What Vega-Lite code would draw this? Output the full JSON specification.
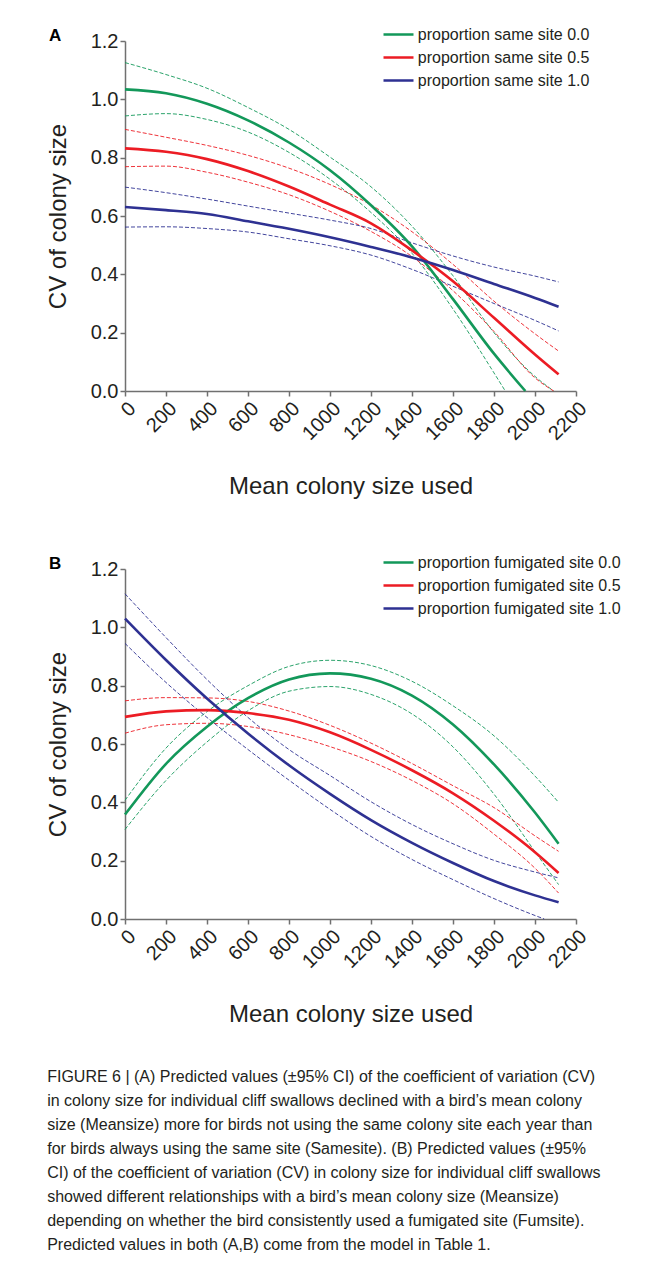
{
  "$schema": "https://vega.github.io/schema/vega-lite/v6.json",
  "background": "white",
  "padding": {"left": 46, "top": 26, "right": 5, "bottom": 5},
  "bounds": "flush",
  "spacing": 178,
  "config": {
    "font": "Liberation Sans",
    "view": {"stroke": null},
    "axis": {
      "domainColor": "#707070", "domainWidth": 1.5, "tickColor": "#707070", "tickWidth": 1.5, "tickSize": 5,
      "labelFontSize": 20, "labelColor": "#231f20", "titleFontSize": 24, "titleFontWeight": "normal",
      "titleColor": "#231f20", "grid": false, "labelPadding": 2
    },
    "legend": {
      "orient": "none", "legendX": 265.5, "legendY": -14.5, "title": null, "symbolType": "M-3,0H3", "symbolSize": 100,
      "symbolStrokeWidth": 2.6, "symbolDash": [1, 0], "labelFontSize": 16, "labelColor": "#231f20", "rowPadding": 7,
      "labelOffset": 11.3, "labelLimit": 400
    },
    "title": {"color": "#000000"}
  },
  "title": {
    "text": [
      "FIGURE 6 | (A) Predicted values (±95% CI) of the coefficient of variation (CV)",
      "in colony size for individual cliff swallows declined with a bird’s mean colony",
      "size (Meansize) more for birds not using the same colony site each year than",
      "for birds always using the same site (Samesite). (B) Predicted values (±95%",
      "CI) of the coefficient of variation (CV) in colony size for individual cliff swallows",
      "showed different relationships with a bird’s mean colony size (Meansize)",
      "depending on whether the bird consistently used a fumigated site (Fumsite).",
      "Predicted values in both (A,B) come from the model in Table 1."
    ],
    "orient": "bottom", "anchor": "start", "frame": "bounds", "font": "Liberation Sans",
    "fontSize": 16, "fontWeight": "normal", "lineHeight": 24, "offset": 42, "dx": 1, "color": "#231f20"
  },
  "datasets": {
    "A": [
      {"series": "proportion same site 0.0", "curve": "upper", "kind": "ci", "x": 0, "y": 1.126},
      {"series": "proportion same site 0.0", "curve": "upper", "kind": "ci", "x": 200, "y": 1.085},
      {"series": "proportion same site 0.0", "curve": "upper", "kind": "ci", "x": 400, "y": 1.038},
      {"series": "proportion same site 0.0", "curve": "upper", "kind": "ci", "x": 600, "y": 0.972},
      {"series": "proportion same site 0.0", "curve": "upper", "kind": "ci", "x": 800, "y": 0.897},
      {"series": "proportion same site 0.0", "curve": "upper", "kind": "ci", "x": 1000, "y": 0.802},
      {"series": "proportion same site 0.0", "curve": "upper", "kind": "ci", "x": 1200, "y": 0.7},
      {"series": "proportion same site 0.0", "curve": "upper", "kind": "ci", "x": 1400, "y": 0.565},
      {"series": "proportion same site 0.0", "curve": "upper", "kind": "ci", "x": 1600, "y": 0.395},
      {"series": "proportion same site 0.0", "curve": "upper", "kind": "ci", "x": 1800, "y": 0.2},
      {"series": "proportion same site 0.0", "curve": "upper", "kind": "ci", "x": 2000, "y": 0.05},
      {"series": "proportion same site 0.0", "curve": "upper", "kind": "ci", "x": 2091, "y": 0},
      {"series": "proportion same site 0.0", "curve": "fit", "kind": "fit", "x": 0, "y": 1.034},
      {"series": "proportion same site 0.0", "curve": "fit", "kind": "fit", "x": 200, "y": 1.021},
      {"series": "proportion same site 0.0", "curve": "fit", "kind": "fit", "x": 400, "y": 0.985},
      {"series": "proportion same site 0.0", "curve": "fit", "kind": "fit", "x": 600, "y": 0.928},
      {"series": "proportion same site 0.0", "curve": "fit", "kind": "fit", "x": 800, "y": 0.852},
      {"series": "proportion same site 0.0", "curve": "fit", "kind": "fit", "x": 1000, "y": 0.757},
      {"series": "proportion same site 0.0", "curve": "fit", "kind": "fit", "x": 1200, "y": 0.637},
      {"series": "proportion same site 0.0", "curve": "fit", "kind": "fit", "x": 1400, "y": 0.496},
      {"series": "proportion same site 0.0", "curve": "fit", "kind": "fit", "x": 1600, "y": 0.315},
      {"series": "proportion same site 0.0", "curve": "fit", "kind": "fit", "x": 1800, "y": 0.128},
      {"series": "proportion same site 0.0", "curve": "fit", "kind": "fit", "x": 1953, "y": 0},
      {"series": "proportion same site 0.0", "curve": "lower", "kind": "ci", "x": 0, "y": 0.943},
      {"series": "proportion same site 0.0", "curve": "lower", "kind": "ci", "x": 200, "y": 0.951},
      {"series": "proportion same site 0.0", "curve": "lower", "kind": "ci", "x": 400, "y": 0.931},
      {"series": "proportion same site 0.0", "curve": "lower", "kind": "ci", "x": 600, "y": 0.888},
      {"series": "proportion same site 0.0", "curve": "lower", "kind": "ci", "x": 800, "y": 0.818},
      {"series": "proportion same site 0.0", "curve": "lower", "kind": "ci", "x": 1000, "y": 0.726},
      {"series": "proportion same site 0.0", "curve": "lower", "kind": "ci", "x": 1200, "y": 0.612},
      {"series": "proportion same site 0.0", "curve": "lower", "kind": "ci", "x": 1400, "y": 0.472},
      {"series": "proportion same site 0.0", "curve": "lower", "kind": "ci", "x": 1600, "y": 0.281},
      {"series": "proportion same site 0.0", "curve": "lower", "kind": "ci", "x": 1800, "y": 0.062},
      {"series": "proportion same site 0.0", "curve": "lower", "kind": "ci", "x": 1855, "y": 0},
      {"series": "proportion same site 0.5", "curve": "upper", "kind": "ci", "x": 0, "y": 0.897},
      {"series": "proportion same site 0.5", "curve": "upper", "kind": "ci", "x": 200, "y": 0.87},
      {"series": "proportion same site 0.5", "curve": "upper", "kind": "ci", "x": 400, "y": 0.842},
      {"series": "proportion same site 0.5", "curve": "upper", "kind": "ci", "x": 600, "y": 0.808},
      {"series": "proportion same site 0.5", "curve": "upper", "kind": "ci", "x": 800, "y": 0.764},
      {"series": "proportion same site 0.5", "curve": "upper", "kind": "ci", "x": 1000, "y": 0.708},
      {"series": "proportion same site 0.5", "curve": "upper", "kind": "ci", "x": 1200, "y": 0.638},
      {"series": "proportion same site 0.5", "curve": "upper", "kind": "ci", "x": 1400, "y": 0.546},
      {"series": "proportion same site 0.5", "curve": "upper", "kind": "ci", "x": 1600, "y": 0.434},
      {"series": "proportion same site 0.5", "curve": "upper", "kind": "ci", "x": 1800, "y": 0.308},
      {"series": "proportion same site 0.5", "curve": "upper", "kind": "ci", "x": 2000, "y": 0.196},
      {"series": "proportion same site 0.5", "curve": "upper", "kind": "ci", "x": 2115, "y": 0.137},
      {"series": "proportion same site 0.5", "curve": "fit", "kind": "fit", "x": 0, "y": 0.832},
      {"series": "proportion same site 0.5", "curve": "fit", "kind": "fit", "x": 200, "y": 0.82},
      {"series": "proportion same site 0.5", "curve": "fit", "kind": "fit", "x": 400, "y": 0.795},
      {"series": "proportion same site 0.5", "curve": "fit", "kind": "fit", "x": 600, "y": 0.754},
      {"series": "proportion same site 0.5", "curve": "fit", "kind": "fit", "x": 800, "y": 0.701},
      {"series": "proportion same site 0.5", "curve": "fit", "kind": "fit", "x": 1000, "y": 0.639},
      {"series": "proportion same site 0.5", "curve": "fit", "kind": "fit", "x": 1200, "y": 0.575},
      {"series": "proportion same site 0.5", "curve": "fit", "kind": "fit", "x": 1400, "y": 0.482},
      {"series": "proportion same site 0.5", "curve": "fit", "kind": "fit", "x": 1600, "y": 0.376},
      {"series": "proportion same site 0.5", "curve": "fit", "kind": "fit", "x": 1800, "y": 0.251},
      {"series": "proportion same site 0.5", "curve": "fit", "kind": "fit", "x": 2000, "y": 0.125},
      {"series": "proportion same site 0.5", "curve": "fit", "kind": "fit", "x": 2115, "y": 0.057},
      {"series": "proportion same site 0.5", "curve": "lower", "kind": "ci", "x": 0, "y": 0.769},
      {"series": "proportion same site 0.5", "curve": "lower", "kind": "ci", "x": 200, "y": 0.771},
      {"series": "proportion same site 0.5", "curve": "lower", "kind": "ci", "x": 400, "y": 0.75},
      {"series": "proportion same site 0.5", "curve": "lower", "kind": "ci", "x": 600, "y": 0.716},
      {"series": "proportion same site 0.5", "curve": "lower", "kind": "ci", "x": 800, "y": 0.673},
      {"series": "proportion same site 0.5", "curve": "lower", "kind": "ci", "x": 1000, "y": 0.616},
      {"series": "proportion same site 0.5", "curve": "lower", "kind": "ci", "x": 1200, "y": 0.547},
      {"series": "proportion same site 0.5", "curve": "lower", "kind": "ci", "x": 1400, "y": 0.461},
      {"series": "proportion same site 0.5", "curve": "lower", "kind": "ci", "x": 1600, "y": 0.344},
      {"series": "proportion same site 0.5", "curve": "lower", "kind": "ci", "x": 1800, "y": 0.204},
      {"series": "proportion same site 0.5", "curve": "lower", "kind": "ci", "x": 2000, "y": 0.045},
      {"series": "proportion same site 0.5", "curve": "lower", "kind": "ci", "x": 2091, "y": 0},
      {"series": "proportion same site 1.0", "curve": "upper", "kind": "ci", "x": 0, "y": 0.699},
      {"series": "proportion same site 1.0", "curve": "upper", "kind": "ci", "x": 200, "y": 0.68},
      {"series": "proportion same site 1.0", "curve": "upper", "kind": "ci", "x": 400, "y": 0.658},
      {"series": "proportion same site 1.0", "curve": "upper", "kind": "ci", "x": 600, "y": 0.634},
      {"series": "proportion same site 1.0", "curve": "upper", "kind": "ci", "x": 800, "y": 0.61},
      {"series": "proportion same site 1.0", "curve": "upper", "kind": "ci", "x": 1000, "y": 0.586},
      {"series": "proportion same site 1.0", "curve": "upper", "kind": "ci", "x": 1200, "y": 0.557},
      {"series": "proportion same site 1.0", "curve": "upper", "kind": "ci", "x": 1400, "y": 0.508},
      {"series": "proportion same site 1.0", "curve": "upper", "kind": "ci", "x": 1600, "y": 0.463},
      {"series": "proportion same site 1.0", "curve": "upper", "kind": "ci", "x": 1800, "y": 0.425},
      {"series": "proportion same site 1.0", "curve": "upper", "kind": "ci", "x": 2000, "y": 0.394},
      {"series": "proportion same site 1.0", "curve": "upper", "kind": "ci", "x": 2115, "y": 0.374},
      {"series": "proportion same site 1.0", "curve": "fit", "kind": "fit", "x": 0, "y": 0.631},
      {"series": "proportion same site 1.0", "curve": "fit", "kind": "fit", "x": 200, "y": 0.62},
      {"series": "proportion same site 1.0", "curve": "fit", "kind": "fit", "x": 400, "y": 0.607},
      {"series": "proportion same site 1.0", "curve": "fit", "kind": "fit", "x": 600, "y": 0.582},
      {"series": "proportion same site 1.0", "curve": "fit", "kind": "fit", "x": 800, "y": 0.556},
      {"series": "proportion same site 1.0", "curve": "fit", "kind": "fit", "x": 1000, "y": 0.527},
      {"series": "proportion same site 1.0", "curve": "fit", "kind": "fit", "x": 1200, "y": 0.494},
      {"series": "proportion same site 1.0", "curve": "fit", "kind": "fit", "x": 1400, "y": 0.458},
      {"series": "proportion same site 1.0", "curve": "fit", "kind": "fit", "x": 1600, "y": 0.415},
      {"series": "proportion same site 1.0", "curve": "fit", "kind": "fit", "x": 1800, "y": 0.367},
      {"series": "proportion same site 1.0", "curve": "fit", "kind": "fit", "x": 2000, "y": 0.319},
      {"series": "proportion same site 1.0", "curve": "fit", "kind": "fit", "x": 2115, "y": 0.289},
      {"series": "proportion same site 1.0", "curve": "lower", "kind": "ci", "x": 0, "y": 0.562},
      {"series": "proportion same site 1.0", "curve": "lower", "kind": "ci", "x": 200, "y": 0.563},
      {"series": "proportion same site 1.0", "curve": "lower", "kind": "ci", "x": 400, "y": 0.557},
      {"series": "proportion same site 1.0", "curve": "lower", "kind": "ci", "x": 600, "y": 0.545},
      {"series": "proportion same site 1.0", "curve": "lower", "kind": "ci", "x": 800, "y": 0.522},
      {"series": "proportion same site 1.0", "curve": "lower", "kind": "ci", "x": 1000, "y": 0.498},
      {"series": "proportion same site 1.0", "curve": "lower", "kind": "ci", "x": 1200, "y": 0.466},
      {"series": "proportion same site 1.0", "curve": "lower", "kind": "ci", "x": 1400, "y": 0.417},
      {"series": "proportion same site 1.0", "curve": "lower", "kind": "ci", "x": 1600, "y": 0.359},
      {"series": "proportion same site 1.0", "curve": "lower", "kind": "ci", "x": 1800, "y": 0.3},
      {"series": "proportion same site 1.0", "curve": "lower", "kind": "ci", "x": 2000, "y": 0.242},
      {"series": "proportion same site 1.0", "curve": "lower", "kind": "ci", "x": 2115, "y": 0.206}
    ],
    "B": [
      {"series": "proportion fumigated site 0.0", "curve": "upper", "kind": "ci", "x": 0, "y": 0.407},
      {"series": "proportion fumigated site 0.0", "curve": "upper", "kind": "ci", "x": 200, "y": 0.586},
      {"series": "proportion fumigated site 0.0", "curve": "upper", "kind": "ci", "x": 400, "y": 0.711},
      {"series": "proportion fumigated site 0.0", "curve": "upper", "kind": "ci", "x": 600, "y": 0.8},
      {"series": "proportion fumigated site 0.0", "curve": "upper", "kind": "ci", "x": 800, "y": 0.866},
      {"series": "proportion fumigated site 0.0", "curve": "upper", "kind": "ci", "x": 1000, "y": 0.887},
      {"series": "proportion fumigated site 0.0", "curve": "upper", "kind": "ci", "x": 1200, "y": 0.869},
      {"series": "proportion fumigated site 0.0", "curve": "upper", "kind": "ci", "x": 1400, "y": 0.815},
      {"series": "proportion fumigated site 0.0", "curve": "upper", "kind": "ci", "x": 1600, "y": 0.731},
      {"series": "proportion fumigated site 0.0", "curve": "upper", "kind": "ci", "x": 1800, "y": 0.628},
      {"series": "proportion fumigated site 0.0", "curve": "upper", "kind": "ci", "x": 2000, "y": 0.49},
      {"series": "proportion fumigated site 0.0", "curve": "upper", "kind": "ci", "x": 2115, "y": 0.4},
      {"series": "proportion fumigated site 0.0", "curve": "fit", "kind": "fit", "x": 0, "y": 0.358},
      {"series": "proportion fumigated site 0.0", "curve": "fit", "kind": "fit", "x": 200, "y": 0.532},
      {"series": "proportion fumigated site 0.0", "curve": "fit", "kind": "fit", "x": 400, "y": 0.659},
      {"series": "proportion fumigated site 0.0", "curve": "fit", "kind": "fit", "x": 600, "y": 0.757},
      {"series": "proportion fumigated site 0.0", "curve": "fit", "kind": "fit", "x": 800, "y": 0.821},
      {"series": "proportion fumigated site 0.0", "curve": "fit", "kind": "fit", "x": 1000, "y": 0.842},
      {"series": "proportion fumigated site 0.0", "curve": "fit", "kind": "fit", "x": 1200, "y": 0.824},
      {"series": "proportion fumigated site 0.0", "curve": "fit", "kind": "fit", "x": 1400, "y": 0.766},
      {"series": "proportion fumigated site 0.0", "curve": "fit", "kind": "fit", "x": 1600, "y": 0.667},
      {"series": "proportion fumigated site 0.0", "curve": "fit", "kind": "fit", "x": 1800, "y": 0.53},
      {"series": "proportion fumigated site 0.0", "curve": "fit", "kind": "fit", "x": 2000, "y": 0.365},
      {"series": "proportion fumigated site 0.0", "curve": "fit", "kind": "fit", "x": 2115, "y": 0.258},
      {"series": "proportion fumigated site 0.0", "curve": "lower", "kind": "ci", "x": 0, "y": 0.307},
      {"series": "proportion fumigated site 0.0", "curve": "lower", "kind": "ci", "x": 200, "y": 0.475},
      {"series": "proportion fumigated site 0.0", "curve": "lower", "kind": "ci", "x": 400, "y": 0.607},
      {"series": "proportion fumigated site 0.0", "curve": "lower", "kind": "ci", "x": 600, "y": 0.714},
      {"series": "proportion fumigated site 0.0", "curve": "lower", "kind": "ci", "x": 800, "y": 0.781},
      {"series": "proportion fumigated site 0.0", "curve": "lower", "kind": "ci", "x": 1000, "y": 0.797},
      {"series": "proportion fumigated site 0.0", "curve": "lower", "kind": "ci", "x": 1200, "y": 0.77},
      {"series": "proportion fumigated site 0.0", "curve": "lower", "kind": "ci", "x": 1400, "y": 0.703},
      {"series": "proportion fumigated site 0.0", "curve": "lower", "kind": "ci", "x": 1600, "y": 0.59},
      {"series": "proportion fumigated site 0.0", "curve": "lower", "kind": "ci", "x": 1800, "y": 0.428},
      {"series": "proportion fumigated site 0.0", "curve": "lower", "kind": "ci", "x": 2000, "y": 0.231},
      {"series": "proportion fumigated site 0.0", "curve": "lower", "kind": "ci", "x": 2115, "y": 0.118},
      {"series": "proportion fumigated site 0.5", "curve": "upper", "kind": "ci", "x": 0, "y": 0.748},
      {"series": "proportion fumigated site 0.5", "curve": "upper", "kind": "ci", "x": 200, "y": 0.759},
      {"series": "proportion fumigated site 0.5", "curve": "upper", "kind": "ci", "x": 400, "y": 0.758},
      {"series": "proportion fumigated site 0.5", "curve": "upper", "kind": "ci", "x": 600, "y": 0.746},
      {"series": "proportion fumigated site 0.5", "curve": "upper", "kind": "ci", "x": 800, "y": 0.713},
      {"series": "proportion fumigated site 0.5", "curve": "upper", "kind": "ci", "x": 1000, "y": 0.664},
      {"series": "proportion fumigated site 0.5", "curve": "upper", "kind": "ci", "x": 1200, "y": 0.603},
      {"series": "proportion fumigated site 0.5", "curve": "upper", "kind": "ci", "x": 1400, "y": 0.533},
      {"series": "proportion fumigated site 0.5", "curve": "upper", "kind": "ci", "x": 1600, "y": 0.457},
      {"series": "proportion fumigated site 0.5", "curve": "upper", "kind": "ci", "x": 1800, "y": 0.382},
      {"series": "proportion fumigated site 0.5", "curve": "upper", "kind": "ci", "x": 2000, "y": 0.285},
      {"series": "proportion fumigated site 0.5", "curve": "upper", "kind": "ci", "x": 2115, "y": 0.232},
      {"series": "proportion fumigated site 0.5", "curve": "fit", "kind": "fit", "x": 0, "y": 0.693},
      {"series": "proportion fumigated site 0.5", "curve": "fit", "kind": "fit", "x": 200, "y": 0.712},
      {"series": "proportion fumigated site 0.5", "curve": "fit", "kind": "fit", "x": 400, "y": 0.716},
      {"series": "proportion fumigated site 0.5", "curve": "fit", "kind": "fit", "x": 600, "y": 0.706},
      {"series": "proportion fumigated site 0.5", "curve": "fit", "kind": "fit", "x": 800, "y": 0.683},
      {"series": "proportion fumigated site 0.5", "curve": "fit", "kind": "fit", "x": 1000, "y": 0.64},
      {"series": "proportion fumigated site 0.5", "curve": "fit", "kind": "fit", "x": 1200, "y": 0.58},
      {"series": "proportion fumigated site 0.5", "curve": "fit", "kind": "fit", "x": 1400, "y": 0.51},
      {"series": "proportion fumigated site 0.5", "curve": "fit", "kind": "fit", "x": 1600, "y": 0.431},
      {"series": "proportion fumigated site 0.5", "curve": "fit", "kind": "fit", "x": 1800, "y": 0.337},
      {"series": "proportion fumigated site 0.5", "curve": "fit", "kind": "fit", "x": 2000, "y": 0.229},
      {"series": "proportion fumigated site 0.5", "curve": "fit", "kind": "fit", "x": 2115, "y": 0.158},
      {"series": "proportion fumigated site 0.5", "curve": "lower", "kind": "ci", "x": 0, "y": 0.637},
      {"series": "proportion fumigated site 0.5", "curve": "lower", "kind": "ci", "x": 200, "y": 0.666},
      {"series": "proportion fumigated site 0.5", "curve": "lower", "kind": "ci", "x": 400, "y": 0.671},
      {"series": "proportion fumigated site 0.5", "curve": "lower", "kind": "ci", "x": 600, "y": 0.66},
      {"series": "proportion fumigated site 0.5", "curve": "lower", "kind": "ci", "x": 800, "y": 0.632},
      {"series": "proportion fumigated site 0.5", "curve": "lower", "kind": "ci", "x": 1000, "y": 0.591},
      {"series": "proportion fumigated site 0.5", "curve": "lower", "kind": "ci", "x": 1200, "y": 0.54},
      {"series": "proportion fumigated site 0.5", "curve": "lower", "kind": "ci", "x": 1400, "y": 0.475},
      {"series": "proportion fumigated site 0.5", "curve": "lower", "kind": "ci", "x": 1600, "y": 0.395},
      {"series": "proportion fumigated site 0.5", "curve": "lower", "kind": "ci", "x": 1800, "y": 0.291},
      {"series": "proportion fumigated site 0.5", "curve": "lower", "kind": "ci", "x": 2000, "y": 0.174},
      {"series": "proportion fumigated site 0.5", "curve": "lower", "kind": "ci", "x": 2115, "y": 0.089},
      {"series": "proportion fumigated site 1.0", "curve": "upper", "kind": "ci", "x": 0, "y": 1.115},
      {"series": "proportion fumigated site 1.0", "curve": "upper", "kind": "ci", "x": 200, "y": 0.965},
      {"series": "proportion fumigated site 1.0", "curve": "upper", "kind": "ci", "x": 400, "y": 0.821},
      {"series": "proportion fumigated site 1.0", "curve": "upper", "kind": "ci", "x": 600, "y": 0.691},
      {"series": "proportion fumigated site 1.0", "curve": "upper", "kind": "ci", "x": 800, "y": 0.581},
      {"series": "proportion fumigated site 1.0", "curve": "upper", "kind": "ci", "x": 1000, "y": 0.492},
      {"series": "proportion fumigated site 1.0", "curve": "upper", "kind": "ci", "x": 1200, "y": 0.402},
      {"series": "proportion fumigated site 1.0", "curve": "upper", "kind": "ci", "x": 1400, "y": 0.324},
      {"series": "proportion fumigated site 1.0", "curve": "upper", "kind": "ci", "x": 1600, "y": 0.258},
      {"series": "proportion fumigated site 1.0", "curve": "upper", "kind": "ci", "x": 1800, "y": 0.201},
      {"series": "proportion fumigated site 1.0", "curve": "upper", "kind": "ci", "x": 2000, "y": 0.161},
      {"series": "proportion fumigated site 1.0", "curve": "upper", "kind": "ci", "x": 2115, "y": 0.141},
      {"series": "proportion fumigated site 1.0", "curve": "fit", "kind": "fit", "x": 0, "y": 1.03},
      {"series": "proportion fumigated site 1.0", "curve": "fit", "kind": "fit", "x": 200, "y": 0.888},
      {"series": "proportion fumigated site 1.0", "curve": "fit", "kind": "fit", "x": 400, "y": 0.756},
      {"series": "proportion fumigated site 1.0", "curve": "fit", "kind": "fit", "x": 600, "y": 0.636},
      {"series": "proportion fumigated site 1.0", "curve": "fit", "kind": "fit", "x": 800, "y": 0.527},
      {"series": "proportion fumigated site 1.0", "curve": "fit", "kind": "fit", "x": 1000, "y": 0.429},
      {"series": "proportion fumigated site 1.0", "curve": "fit", "kind": "fit", "x": 1200, "y": 0.339},
      {"series": "proportion fumigated site 1.0", "curve": "fit", "kind": "fit", "x": 1400, "y": 0.261},
      {"series": "proportion fumigated site 1.0", "curve": "fit", "kind": "fit", "x": 1600, "y": 0.192},
      {"series": "proportion fumigated site 1.0", "curve": "fit", "kind": "fit", "x": 1800, "y": 0.13},
      {"series": "proportion fumigated site 1.0", "curve": "fit", "kind": "fit", "x": 2000, "y": 0.081},
      {"series": "proportion fumigated site 1.0", "curve": "fit", "kind": "fit", "x": 2115, "y": 0.057},
      {"series": "proportion fumigated site 1.0", "curve": "lower", "kind": "ci", "x": 0, "y": 0.945},
      {"series": "proportion fumigated site 1.0", "curve": "lower", "kind": "ci", "x": 200, "y": 0.811},
      {"series": "proportion fumigated site 1.0", "curve": "lower", "kind": "ci", "x": 400, "y": 0.691},
      {"series": "proportion fumigated site 1.0", "curve": "lower", "kind": "ci", "x": 600, "y": 0.581},
      {"series": "proportion fumigated site 1.0", "curve": "lower", "kind": "ci", "x": 800, "y": 0.476},
      {"series": "proportion fumigated site 1.0", "curve": "lower", "kind": "ci", "x": 1000, "y": 0.376},
      {"series": "proportion fumigated site 1.0", "curve": "lower", "kind": "ci", "x": 1200, "y": 0.283},
      {"series": "proportion fumigated site 1.0", "curve": "lower", "kind": "ci", "x": 1400, "y": 0.204},
      {"series": "proportion fumigated site 1.0", "curve": "lower", "kind": "ci", "x": 1600, "y": 0.135},
      {"series": "proportion fumigated site 1.0", "curve": "lower", "kind": "ci", "x": 1800, "y": 0.07},
      {"series": "proportion fumigated site 1.0", "curve": "lower", "kind": "ci", "x": 2000, "y": 0.012},
      {"series": "proportion fumigated site 1.0", "curve": "lower", "kind": "ci", "x": 2045, "y": 0}
    ]
  },
  "vconcat": [
    {
      "width": 451, "height": 350,
      "title": {"text": "A", "anchor": "start", "frame": "group", "fontSize": 17, "fontWeight": "bold", "dx": -76, "dy": 18, "offset": 0},
      "data": {"name": "A"},
      "encoding": {
        "x": {"field": "x", "type": "quantitative", "scale": {"domain": [0, 2200], "nice": false},
          "axis": {"values": [0, 200, 400, 600, 800, 1000, 1200, 1400, 1600, 1800, 2000, 2200], "labelAngle": -45, "labelOverlap": false, "format": "d", "title": "Mean colony size used", "titlePadding": 31}},
        "y": {"field": "y", "type": "quantitative", "scale": {"domain": [0, 1.2], "nice": false},
          "axis": {"values": [0, 0.2, 0.4, 0.6, 0.8, 1.0, 1.2], "format": ".1f", "title": "CV of colony size", "titlePadding": 20}},
        "color": {"field": "series", "type": "nominal", "scale": {"range": ["#13985a", "#ec1c24", "#2e3192"]}},
        "detail": {"field": "curve"}
      },
      "layer": [
        {"transform": [{"filter": "datum.kind === 'ci'"}], "mark": {"type": "line", "strokeWidth": 0.9, "strokeDash": [4, 2], "interpolate": "monotone"}},
        {"transform": [{"filter": "datum.kind === 'fit'"}], "mark": {"type": "line", "strokeWidth": 2.6, "interpolate": "monotone"}}
      ]
    },
    {
      "width": 451, "height": 350,
      "title": {"text": "B", "anchor": "start", "frame": "group", "fontSize": 17, "fontWeight": "bold", "dx": -76, "dy": 18, "offset": 0},
      "data": {"name": "B"},
      "encoding": {
        "x": {"field": "x", "type": "quantitative", "scale": {"domain": [0, 2200], "nice": false},
          "axis": {"values": [0, 200, 400, 600, 800, 1000, 1200, 1400, 1600, 1800, 2000, 2200], "labelAngle": -45, "labelOverlap": false, "format": "d", "title": "Mean colony size used", "titlePadding": 31}},
        "y": {"field": "y", "type": "quantitative", "scale": {"domain": [0, 1.2], "nice": false},
          "axis": {"values": [0, 0.2, 0.4, 0.6, 0.8, 1.0, 1.2], "format": ".1f", "title": "CV of colony size", "titlePadding": 20}},
        "color": {"field": "series", "type": "nominal", "scale": {"range": ["#13985a", "#ec1c24", "#2e3192"]}},
        "detail": {"field": "curve"}
      },
      "layer": [
        {"transform": [{"filter": "datum.kind === 'ci'"}], "mark": {"type": "line", "strokeWidth": 0.9, "strokeDash": [4, 2], "interpolate": "monotone"}},
        {"transform": [{"filter": "datum.kind === 'fit'"}], "mark": {"type": "line", "strokeWidth": 2.6, "interpolate": "monotone"}}
      ]
    }
  ],
  "resolve": {"scale": {"color": "independent"}, "legend": {"color": "independent"}}
}
